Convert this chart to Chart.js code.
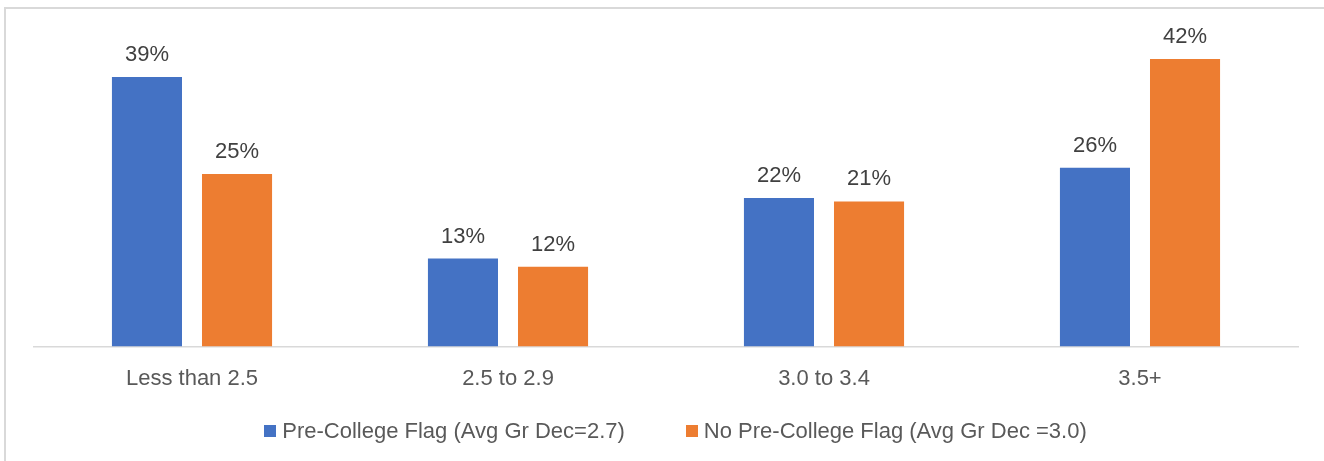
<!DOCTYPE html>
<html>
<head>
<meta charset="utf-8">
<script src="https://cdn.jsdelivr.net/npm/chart.js@4/dist/chart.umd.min.js"></script>
<style>
  html, body { margin: 0; padding: 0; background: #fff; }
  #wrap { position: relative; width: 1324px; height: 461px; overflow: hidden; }
  #frame {
    position: absolute; left: 4px; top: 7px; right: -4px; bottom: -4px;
    border-top: 2px solid #d9d9d9; border-left: 2px solid #d9d9d9;
    pointer-events: none;
  }
  #gpaChart { position: absolute; left: 0; top: 0; }
  #legend {
    position: absolute; left: 0; width: 1351px; top: 419px;
    display: flex; justify-content: center; gap: 61px;
    font-family: 'Liberation Sans', Arial, sans-serif; font-size: 22px; color: #595959;
    line-height: 24px;
  }
  #legend .item { display: flex; align-items: center; white-space: nowrap; }
  #legend .box { width: 12px; height: 12px; margin-right: 6px; }
</style>
</head>
<body>
<div id="wrap">
  <canvas id="gpaChart" width="1324" height="461"></canvas>
  <div id="frame"></div>
  <div id="legend"></div>
</div>
<script>
/* ---- data ---- */
const categories = ['Less than 2.5', '2.5 to 2.9', '3.0 to 3.4', '3.5+'];
const preCollege = [39.2, 12.8, 21.6, 26.0];
const noPreCollege = [25.1, 11.6, 21.1, 41.8];
const seriesNames = ['Pre-College Flag (Avg Gr Dec=2.7)', 'No Pre-College Flag (Avg Gr Dec =3.0)'];

const colors = {
    blue: '#4472C4',
    orange: '#ED7D31',
    label: '#404040',
    tick: '#595959',
    axis: '#d9d9d9'
};
const fontFamily = "'Liberation Sans', Arial, sans-serif";

// value labels above each bar
const barLabels = {
    id: 'barLabels',
    afterDatasetsDraw(chart) {
        const ctx = chart.ctx;
        ctx.save();
        ctx.font = '22px ' + fontFamily;
        ctx.fillStyle = colors.label;
        ctx.textAlign = 'center';
        ctx.textBaseline = 'alphabetic';
        chart.data.datasets.forEach((ds, i) => {
            chart.getDatasetMeta(i).data.forEach((bar, j) => {
                ctx.fillText(Math.round(ds.data[j]) + '%', bar.x, bar.y - 16);
            });
        });
        ctx.restore();
    }
};

const chart = new Chart(document.getElementById('gpaChart'), {
    type: 'bar',
    data: {
        labels: categories,
        datasets: [
            { label: seriesNames[0], data: preCollege, backgroundColor: colors.blue },
            { label: seriesNames[1], data: noPreCollege, backgroundColor: colors.orange }
        ]
    },
    options: {
        responsive: false,
        animation: false,
        layout: { padding: { left: 34, right: 26, top: 37, bottom: 50 } },
        datasets: { bar: { categoryPercentage: 0.57, barPercentage: 0.778 } },
        plugins: {
            legend: { display: false },
            tooltip: { enabled: false }
        },
        scales: {
            x: {
                grid: { display: false, drawTicks: false },
                border: { display: true, color: colors.axis, width: 1.5 },
                ticks: {
                    padding: 19,
                    color: colors.tick,
                    font: { family: fontFamily, size: 22 }
                }
            },
            y: { display: false, min: 0, max: 45 }
        }
    },
    plugins: [barLabels]
});

// html legend from the chart's datasets
const legendEl = document.getElementById('legend');
chart.data.datasets.forEach(ds => {
    const item = document.createElement('div');
    item.className = 'item';
    const box = document.createElement('span');
    box.className = 'box';
    box.style.background = ds.backgroundColor;
    const text = document.createElement('span');
    text.textContent = ds.label;
    item.appendChild(box);
    item.appendChild(text);
    legendEl.appendChild(item);
});
</script>
</body>
</html>
